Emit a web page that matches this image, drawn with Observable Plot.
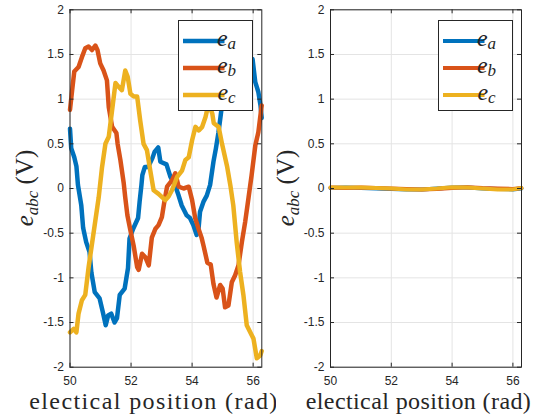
<!DOCTYPE html>
<html>
<head>
<meta charset="utf-8">
<script src="https://cdn.jsdelivr.net/npm/d3@7"></script>
<script src="https://cdn.jsdelivr.net/npm/@observablehq/plot@0.6"></script>
<style>
  body { margin: 0; background: #fff; }
  #wrap { position: relative; width: 553px; height: 420px; overflow: hidden; background: #fff; }
  #wrap svg { position: absolute; top: 0; }
</style>
</head>
<body>
<div id="wrap"></div>
<script>
// ---------- data ----------
const xTicks = [50, 52, 54, 56];
const yTicks = [-2, -1.5, -1, -0.5, 0, 0.5, 1, 1.5, 2];
const seriesNames = ["a", "b", "c"];
const seriesColors = ["#0072BD", "#D95319", "#EDB120"];
const xLabelText = "electical position (rad)";
const yLabelMain = "e";
const yLabelSub = "abc";
const yLabelUnit = " (V)";

// left panel
const posA = [50.00, 50.04, 50.14, 50.21, 50.26, 50.37, 50.43, 50.53, 50.64, 50.70, 50.81, 50.97, 51.08, 51.17, 51.25, 51.35, 51.46, 51.54, 51.63, 51.79, 51.90, 51.95, 52.07, 52.23, 52.28, 52.34, 52.37, 52.45, 52.56, 52.70, 52.77, 52.89, 52.96, 53.16, 53.29, 53.44, 53.55, 53.66, 53.82, 53.93, 54.04, 54.15, 54.21, 54.26, 54.37, 54.48, 54.59, 54.70, 54.78, 54.86, 54.93, 55.00, 55.05, 55.30, 55.60, 55.85, 55.98, 56.07, 56.17, 56.24, 56.28];
const ea = [0.67, 0.45, 0.35, 0.25, 0.04, -0.19, -0.44, -0.60, -0.71, -0.94, -1.16, -1.23, -1.39, -1.53, -1.42, -1.40, -1.50, -1.45, -1.19, -1.12, -0.89, -0.56, -0.45, -0.33, -0.15, 0.04, 0.15, 0.24, 0.24, 0.34, 0.41, 0.46, 0.30, 0.27, 0.13, 0.04, -0.07, -0.19, -0.30, -0.33, -0.41, -0.52, -0.45, -0.26, -0.15, -0.08, 0.04, 0.30, 0.45, 0.62, 0.80, 0.99, 1.14, 1.25, 1.35, 1.45, 1.45, 1.19, 1.08, 0.93, 0.79];

const posB = [50.00, 50.07, 50.14, 50.28, 50.39, 50.50, 50.61, 50.72, 50.83, 50.90, 50.99, 51.10, 51.21, 51.27, 51.38, 51.52, 51.56, 51.65, 51.76, 51.81, 51.88, 51.98, 52.09, 52.20, 52.25, 52.36, 52.47, 52.58, 52.68, 52.80, 52.90, 53.01, 53.09, 53.18, 53.34, 53.45, 53.56, 53.72, 53.89, 54.00, 54.10, 54.21, 54.31, 54.38, 54.50, 54.61, 54.70, 54.80, 54.92, 55.00, 55.08, 55.19, 55.30, 55.41, 55.52, 55.63, 55.74, 55.85, 55.95, 56.07, 56.17, 56.28];
const eb = [0.88, 1.10, 1.31, 1.36, 1.47, 1.57, 1.59, 1.55, 1.60, 1.55, 1.40, 1.32, 1.21, 0.91, 0.69, 0.62, 0.50, 0.32, 0.06, -0.10, -0.30, -0.47, -0.65, -0.88, -0.91, -0.73, -0.77, -0.86, -0.55, -0.45, -0.41, -0.32, -0.15, 0.02, 0.09, 0.17, 0.02, 0.00, 0.02, -0.13, -0.33, -0.45, -0.55, -0.65, -0.83, -0.85, -1.07, -1.22, -1.08, -1.12, -1.33, -1.31, -1.05, -0.97, -0.86, -0.60, -0.37, -0.10, 0.15, 0.48, 0.63, 0.93];

const posC = [50.00, 50.12, 50.21, 50.28, 50.39, 50.50, 50.61, 50.72, 50.83, 50.94, 51.05, 51.16, 51.27, 51.38, 51.49, 51.59, 51.70, 51.81, 51.89, 51.98, 52.09, 52.20, 52.30, 52.41, 52.52, 52.63, 52.74, 52.90, 53.12, 53.23, 53.34, 53.51, 53.67, 53.78, 53.89, 54.00, 54.11, 54.22, 54.33, 54.44, 54.54, 54.66, 54.71, 54.87, 54.98, 55.15, 55.26, 55.35, 55.46, 55.57, 55.68, 55.79, 55.95, 56.01, 56.12, 56.23, 56.28];
const ec = [-1.61, -1.57, -1.61, -1.40, -1.25, -1.19, -0.88, -0.62, -0.36, -0.10, 0.24, 0.50, 0.58, 0.88, 1.18, 1.14, 1.10, 1.32, 1.25, 1.06, 1.03, 1.03, 0.76, 0.50, 0.43, 0.20, -0.02, -0.06, -0.13, -0.09, -0.02, 0.13, 0.20, 0.32, 0.35, 0.54, 0.69, 0.65, 0.69, 0.80, 0.95, 0.84, 0.73, 0.69, 0.50, 0.24, 0.02, -0.19, -0.60, -0.93, -1.19, -1.53, -1.64, -1.68, -1.90, -1.87, -1.82];

// right panel
const posR = [50.0, 50.5, 51.0, 51.5, 52.0, 52.5, 53.0, 53.5, 54.0, 54.5, 55.0, 55.5, 56.0, 56.28];
const eaR = [0.005, 0.01, 0.005, 0.0, -0.005, -0.01, -0.01, 0.0, 0.01, 0.01, 0.0, -0.005, -0.01, 0.0];
const ebR = [0.01, 0.005, 0.01, 0.005, 0.0, -0.005, -0.01, -0.005, 0.005, 0.015, 0.005, 0.0, -0.005, 0.005];
const ecR = [0.01, 0.01, 0.01, 0.005, 0.0, -0.01, -0.01, 0.0, 0.015, 0.01, 0.0, -0.01, -0.01, 0.005];

// ---------- drawing ----------
const zip = (xs, ys) => xs.slice(0, Math.min(xs.length, ys.length)).map((x, i) => ({x, y: ys[i]}));
const AX = "#262626";
const GRID = "#e4e4e4";
const H = 420, MT = 9.3, MB = 53.3;

function panel(cfg) {
  const plotH = H - MT - MB;
  const plotW = cfg.width - cfg.marginLeft - cfg.marginRight;
  const svg = Plot.plot({
    width: cfg.width, height: H,
    marginLeft: cfg.marginLeft, marginRight: cfg.marginRight, marginTop: MT, marginBottom: MB,
    style: {fontFamily: "'Liberation Sans', Arial, sans-serif", fontSize: "12px", color: AX, background: "white", overflow: "visible"},
    x: {domain: [50, 50 + 2 * Math.PI], ticks: xTicks, tickSize: 0, tickPadding: 9, tickFormat: d => String(d), label: null},
    y: {domain: [-2, 2], ticks: yTicks, tickSize: 0, tickPadding: 6, tickFormat: d => String(d), label: null},
    marks: [
      Plot.ruleX(xTicks, {x: d => d, stroke: GRID}),
      Plot.ruleY(yTicks, {y: d => d, stroke: GRID}),
      ...cfg.series.map((s, i) => Plot.line(s, {x: "x", y: "y", stroke: seriesColors[i], strokeWidth: cfg.lineWidth, strokeLinejoin: "round"})),
      Plot.tickX(xTicks, {x: d => d, insetTop: plotH - 4, stroke: AX}),
      Plot.tickX(xTicks, {x: d => d, insetBottom: plotH - 4, stroke: AX}),
      Plot.tickY(yTicks, {y: d => d, insetRight: plotW - 4, stroke: AX}),
      Plot.tickY(yTicks, {y: d => d, insetLeft: plotW - 4, stroke: AX}),
      Plot.frame({stroke: AX})
    ]
  });
  svg.style.left = cfg.left + "px";
  const g = d3.select(svg);
  const serif = "'Liberation Serif', 'Times New Roman', serif";

  // legend
  const lg = g.append("g").attr("transform", `translate(${cfg.legendX + 0.5},${20.5})`);
  lg.append("rect").attr("width", 74).attr("height", 90).attr("fill", "white").attr("stroke", AX);
  seriesNames.forEach((n, i) => {
    const cy = 20.5 + i * 27;
    lg.append("line").attr("x1", 4.5).attr("x2", 46).attr("y1", cy).attr("y2", cy)
      .attr("stroke", seriesColors[i]).attr("stroke-width", cfg.legendWidth);
    const t = lg.append("text").attr("x", 48).attr("y", cy + 4.5)
      .attr("font-family", serif).attr("font-size", 24).attr("font-style", "italic").attr("fill", AX);
    t.append("tspan").text("e");
    t.append("tspan").attr("dy", 3.5).attr("font-size", 17).text(n);
  });

  // y label
  const yl = g.append("text").attr("transform", `translate(${cfg.yLabelX},188) rotate(-90)`)
    .attr("text-anchor", "middle").attr("font-family", serif).attr("font-size", 25).attr("fill", AX);
  yl.append("tspan").attr("font-style", "italic").text(yLabelMain);
  yl.append("tspan").attr("font-style", "italic").attr("font-size", 17).attr("dy", 5).text(yLabelSub);
  yl.append("tspan").attr("dy", -5).text(yLabelUnit);

  // x label
  g.append("text").attr("x", cfg.xLabelX).attr("y", 409).attr("text-anchor", "middle")
    .attr("font-family", serif).attr("font-size", 24).attr("letter-spacing", cfg.xLabelSpacing).attr("fill", AX)
    .text(xLabelText);

  document.getElementById("wrap").appendChild(svg);
}

panel({
  left: 0, width: 276, marginLeft: 69.5, marginRight: 14.7, lineWidth: 4.5, legendWidth: 4.5,
  series: [zip(posA, ea), zip(posB, eb), zip(posC, ec)],
  legendX: 178, yLabelX: 33, xLabelX: 154, xLabelSpacing: 1.4
});
panel({
  left: 276, width: 277, marginLeft: 54, marginRight: 32, lineWidth: 4, legendWidth: 4,
  series: [zip(posR, eaR), zip(posR, ebR), zip(posR, ecR)],
  legendX: 162, yLabelX: 17.5, xLabelX: 142.5, xLabelSpacing: 0.4
});
</script>
</body>
</html>
